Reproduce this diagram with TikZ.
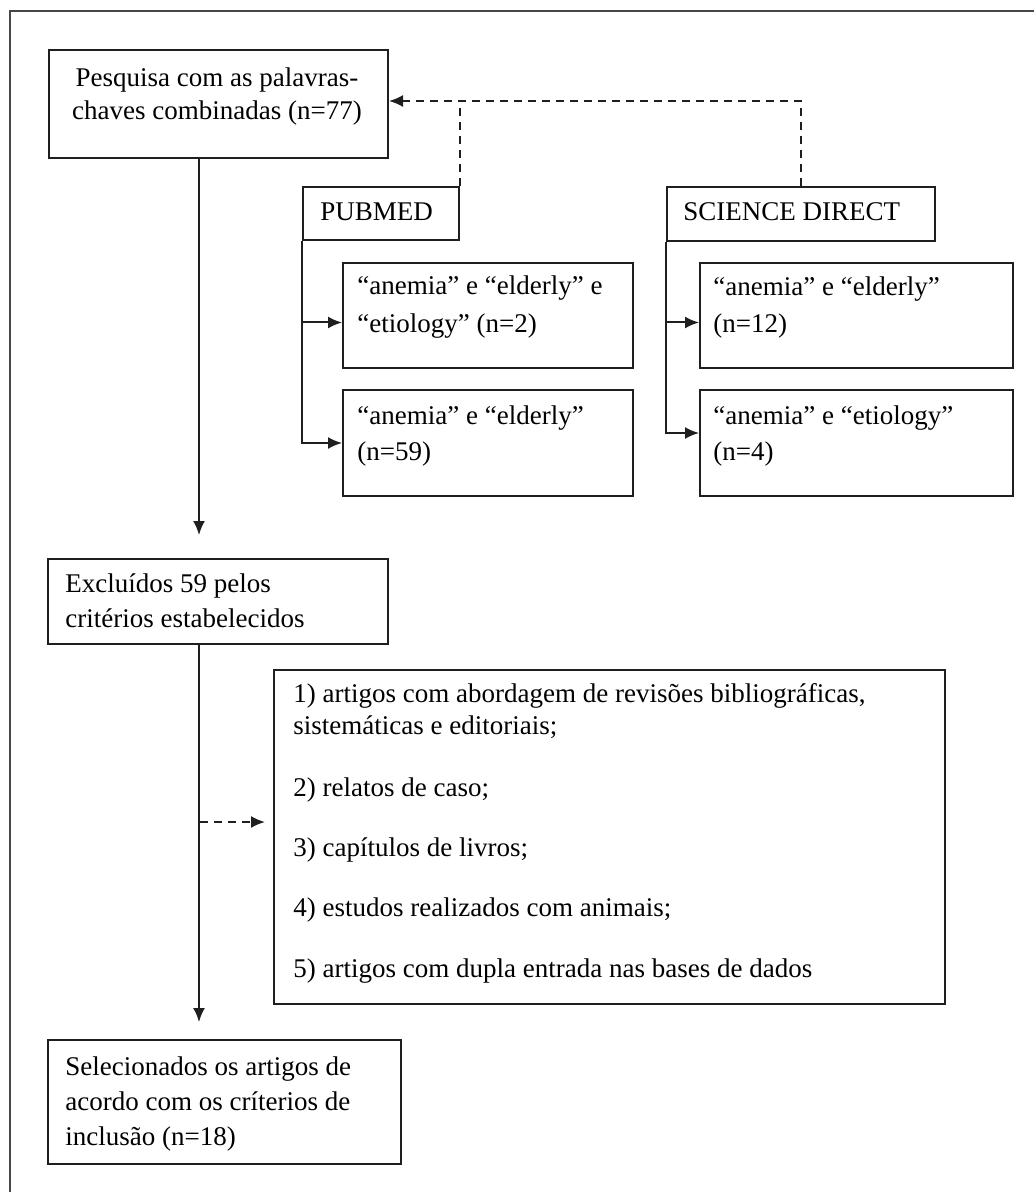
\documentclass[tikz,border=0pt]{standalone}
\usepackage{fontspec}
\setmainfont{Liberation Serif}
\usetikzlibrary{arrows.meta,calc}
\begin{document}
\begin{tikzpicture}[x=0.5pt,y=-0.5pt,
  boxst/.style={draw=black!88, line width=1pt, inner sep=0pt, anchor=north west},
  txt/.style={anchor=base west, inner sep=0pt, font=\fontsize{13.5pt}{16pt}\selectfont, text=black},
  ctxt/.style={txt, anchor=base},
  arr/.style={line width=1pt, draw=black!88, -{Latex[length=7pt,width=6pt]}},
  dsh/.style={line width=1pt, draw=black!88, dash pattern=on 4pt off 3pt},
  dsharr/.style={dsh, -{Latex[length=7pt,width=6pt]}}
]
\useasboundingbox (0,0) rectangle (1034,1192);
% outer frame (cropped at right and bottom)
\draw[line width=1.4pt, draw=black!72] (1034,11) -- (10,11) -- (10,1192);

% boxes
\node[boxst, minimum width=339*0.5pt, minimum height=108*0.5pt] (b1) at (48,49) {};
\node[boxst, minimum width=156*0.5pt, minimum height=53*0.5pt] (pm) at (302,186) {};
\node[boxst, minimum width=268*0.5pt, minimum height=54*0.5pt] (sd) at (666,186) {};
\node[boxst, minimum width=290*0.5pt, minimum height=105*0.5pt] (p1) at (342,262) {};
\node[boxst, minimum width=290*0.5pt, minimum height=106*0.5pt] (p2) at (342,389) {};
\node[boxst, minimum width=313*0.5pt, minimum height=105*0.5pt] (s1) at (699,262) {};
\node[boxst, minimum width=313*0.5pt, minimum height=106*0.5pt] (s2) at (699,389) {};
\node[boxst, minimum width=340*0.5pt, minimum height=85*0.5pt] (ex) at (47,558) {};
\node[boxst, minimum width=671*0.5pt, minimum height=334*0.5pt] (cr) at (273,669) {};
\node[boxst, minimum width=353*0.5pt, minimum height=124*0.5pt] (fi) at (47,1039) {};

% texts
\node[ctxt] (t1a) at (217,87) {Pesquisa com as palavras-};
\node[ctxt] (t1b) at (217,120) {chaves combinadas (n=77)};
\node[txt] (tpm) at (320,221) {PUBMED};
\node[txt] (tsd) at (683,221) {SCIENCE DIRECT};
\node[txt] (tp1a) at (357,295) {“anemia” e “elderly” e};
\node[txt] (tp1b) at (357,332) {“etiology” (n=2)};
\node[txt] (tp2a) at (357,424) {“anemia” e “elderly”};
\node[txt] (tp2b) at (357,460) {(n=59)};
\node[txt] (ts1a) at (713,296) {“anemia” e “elderly”};
\node[txt] (ts1b) at (713,332) {(n=12)};
\node[txt] (ts2a) at (713,424) {“anemia” e “etiology”};
\node[txt] (ts2b) at (713,460) {(n=4)};
\node[txt] (tea) at (65,592) {Excluídos 59 pelos};
\node[txt] (teb) at (65,627) {critérios estabelecidos};
\node[txt] (tc1) at (293,702) {1) artigos com abordagem de revisões bibliográficas,};
\node[txt] (tc1b) at (293,734) {sistemáticas e editoriais;};
\node[txt] (tc2) at (293,796) {2) relatos de caso;};
\node[txt] (tc3) at (293,856) {3) capítulos de livros;};
\node[txt] (tc4) at (293,916) {4) estudos realizados com animais;};
\node[txt] (tc5) at (293,977) {5) artigos com dupla entrada nas bases de dados};
\node[txt] (tfa) at (65,1075) {Selecionados os artigos de};
\node[txt] (tfb) at (65,1110) {acordo com os críterios de};
\node[txt] (tfc) at (65,1145) {inclusão (n=18)};

% connectors
\coordinate (j) at ($(b1.east)+(0,-3)$);
\draw[dsharr] (sd.north) |- (j);
\draw[dsh] (pm.north east) -- (pm.north east |- j);

\draw[arr] (pm.south west) |- ($(p1.west)+(0,7)$);
\draw[arr] (pm.south west) |- (p2.west);
\draw[arr] (sd.south west) |- ($(s1.west)+(0,7)$);
\draw[arr] (sd.south west) |- ($(s2.west)+(0,-10)$);

\coordinate (m1) at (199,535);
\draw[arr] (b1.south -| m1) -- (m1);
\coordinate (m2) at (199,1022);
\draw[arr] (ex.south -| m2) -- (m2);
\coordinate (d1) at (200,822);
\coordinate (d2) at (265,822);
\draw[dsharr] (d1) -- (d2);
\end{tikzpicture}
\end{document}
